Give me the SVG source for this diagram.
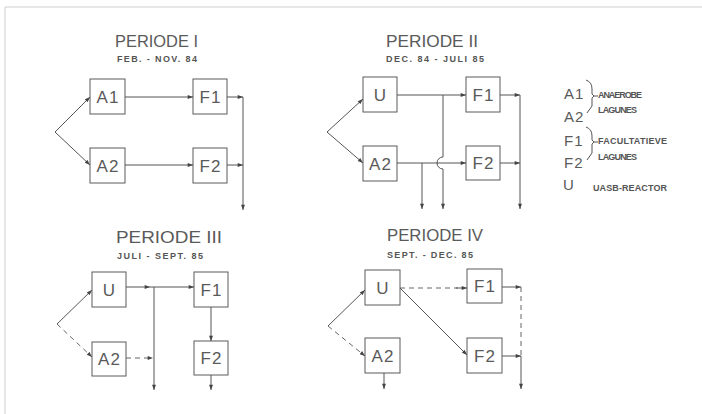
<svg xmlns="http://www.w3.org/2000/svg" width="702" height="414" viewBox="0 0 702 414">
<style>
.bg{fill:#ffffff}
.frame{stroke:#cfcfcf;stroke-width:1;fill:none}
.box{fill:#ffffff;stroke:#5a5a5a;stroke-width:1}
.lbl{font-family:"Liberation Sans",Arial,sans-serif;font-size:17px;fill:#5a5a5a;text-anchor:middle;letter-spacing:1px}
.title{font-family:"Liberation Sans",Arial,sans-serif;font-size:17px;fill:#5a5a5a}
.sub{font-family:"Liberation Sans",Arial,sans-serif;font-size:9px;font-weight:bold;fill:#555}
.leg{font-family:"Liberation Sans",Arial,sans-serif;font-size:15px;fill:#5a5a5a}
.legs{font-family:"Liberation Sans",Arial,sans-serif;font-size:9px;font-weight:bold;fill:#555}
.ln{stroke:#555;stroke-width:1;fill:none}
.dash{stroke:#666;stroke-width:1;fill:none;stroke-dasharray:5,4}
.brace{stroke:#555;stroke-width:1;fill:none}
</style>
<defs>
<marker id="ah" viewBox="0 0 8 6" refX="8" refY="3" markerWidth="7" markerHeight="4" orient="auto" markerUnits="userSpaceOnUse">
<path d="M0,0 L8,3 L0,6 z" fill="#444"/>
</marker>
</defs>
<rect class="bg" x="0" y="0" width="702" height="414"/>
<path class="frame" d="M5,414 L5,7 L702,7"/>

<!-- titles -->
<g id="titles">
<text class="title" x="115" y="47" textLength="83" lengthAdjust="spacingAndGlyphs">PERIODE I</text>
<text class="sub" x="117" y="62" textLength="80" lengthAdjust="spacing">FEB. - NOV. 84</text>
<text class="title" x="386" y="47" textLength="92" lengthAdjust="spacingAndGlyphs">PERIODE II</text>
<text class="sub" x="386" y="62" textLength="98" lengthAdjust="spacing">DEC. 84 - JULI 85</text>
<text class="title" x="116" y="243" textLength="106" lengthAdjust="spacingAndGlyphs">PERIODE III</text>
<text class="sub" x="117" y="259" textLength="86" lengthAdjust="spacing">JULI - SEPT. 85</text>
<text class="title" x="387" y="241" textLength="96" lengthAdjust="spacingAndGlyphs">PERIODE IV</text>
<text class="sub" x="387" y="258" textLength="86" lengthAdjust="spacing">SEPT. - DEC. 85</text>
</g>

<!-- Periode I nodes -->
<g id="p1-A1"><rect class="box" x="90" y="79" width="35" height="35"/><text class="lbl" x="108" y="103">A1</text></g>
<g id="p1-F1"><rect class="box" x="193" y="79" width="34" height="35"/><text class="lbl" x="210.5" y="103">F1</text></g>
<g id="p1-A2"><rect class="box" x="90" y="148" width="35" height="35"/><text class="lbl" x="108" y="172">A2</text></g>
<g id="p1-F2"><rect class="box" x="193" y="148" width="34" height="35"/><text class="lbl" x="210.5" y="172">F2</text></g>

<!-- Periode II nodes -->
<g id="p2-U"><rect class="box" x="363" y="77" width="34" height="35"/><text class="lbl" x="380.5" y="101">U</text></g>
<g id="p2-F1"><rect class="box" x="466" y="77" width="34" height="35"/><text class="lbl" x="483.5" y="101">F1</text></g>
<g id="p2-A2"><rect class="box" x="363" y="146" width="34" height="35"/><text class="lbl" x="380.5" y="170">A2</text></g>
<g id="p2-F2"><rect class="box" x="466" y="146" width="34" height="34"/><text class="lbl" x="483.5" y="169">F2</text></g>

<!-- Periode III nodes -->
<g id="p3-U"><rect class="box" x="92" y="272" width="34" height="35"/><text class="lbl" x="109.5" y="296">U</text></g>
<g id="p3-F1"><rect class="box" x="194" y="272" width="34" height="35"/><text class="lbl" x="211.5" y="296">F1</text></g>
<g id="p3-A2"><rect class="box" x="92" y="342" width="34" height="34"/><text class="lbl" x="109.5" y="365">A2</text></g>
<g id="p3-F2"><rect class="box" x="194" y="341" width="34" height="34"/><text class="lbl" x="211.5" y="364">F2</text></g>

<!-- Periode IV nodes -->
<g id="p4-U"><rect class="box" x="365" y="270" width="35" height="35"/><text class="lbl" x="383" y="294">U</text></g>
<g id="p4-F1"><rect class="box" x="467" y="269" width="35" height="34"/><text class="lbl" x="485" y="292">F1</text></g>
<g id="p4-A2"><rect class="box" x="365" y="338" width="35" height="35"/><text class="lbl" x="383" y="362">A2</text></g>
<g id="p4-F2"><rect class="box" x="467" y="338" width="35" height="35"/><text class="lbl" x="485" y="362">F2</text></g>

<!-- legend -->
<g id="legend">
<text class="leg" x="564" y="99" letter-spacing="1">A1</text>
<text class="leg" x="564" y="122" letter-spacing="1">A2</text>
<path class="brace" d="M586,80 Q592,82 592,89 L592,94 L594,96 L592,98 L592,106 L587,113 M594,96 L598,96"/>
<text class="legs" x="598" y="98" textLength="44" lengthAdjust="spacing">ANAEROBE</text>
<text class="legs" x="598" y="113" textLength="39" lengthAdjust="spacing">LAGUNES</text>
<text class="leg" x="564" y="146" letter-spacing="1">F1</text>
<text class="leg" x="564" y="168" letter-spacing="1">F2</text>
<path class="brace" d="M586,127 Q592,129 592,136 L592,140 L594,142 L592,144 L592,153 L587,160 M594,142 L598,142"/>
<text class="legs" x="598" y="144" textLength="69" lengthAdjust="spacing">FACULTATIEVE</text>
<text class="legs" x="598" y="160" textLength="39" lengthAdjust="spacing">LAGUNES</text>
<text class="leg" x="563" y="190">U</text>
<text class="legs" x="593" y="191" textLength="74" lengthAdjust="spacing">UASB-REACTOR</text>
</g>

<g id="connectors">
<!-- Periode I -->
<line class="ln" x1="55" y1="132" x2="90" y2="97" marker-end="url(#ah)"/>
<line class="ln" x1="55" y1="132" x2="90" y2="165" marker-end="url(#ah)"/>
<line class="ln" x1="125" y1="97" x2="193" y2="97" marker-end="url(#ah)"/>
<line class="ln" x1="125" y1="165" x2="193" y2="165" marker-end="url(#ah)"/>
<line class="ln" x1="227" y1="97" x2="243" y2="97" marker-end="url(#ah)"/>
<line class="ln" x1="227" y1="165" x2="243" y2="165" marker-end="url(#ah)"/>
<line class="ln" x1="243" y1="97" x2="243" y2="210" marker-end="url(#ah)"/>

<!-- Periode II -->
<line class="ln" x1="327" y1="132" x2="363" y2="99" marker-end="url(#ah)"/>
<line class="ln" x1="327" y1="132" x2="363" y2="163" marker-end="url(#ah)"/>
<line class="ln" x1="397" y1="95" x2="466" y2="95" marker-end="url(#ah)"/>
<line class="ln" x1="397" y1="163" x2="466" y2="163" marker-end="url(#ah)"/>
<path class="ln" d="M443,95 L443,157 A6,6 0 0 0 443,169 L443,209" marker-end="url(#ah)"/>
<line class="ln" x1="422" y1="163" x2="422" y2="209" marker-end="url(#ah)"/>
<line class="ln" x1="500" y1="95" x2="520" y2="95" marker-end="url(#ah)"/>
<line class="ln" x1="500" y1="163" x2="520" y2="163" marker-end="url(#ah)"/>
<line class="ln" x1="520" y1="95" x2="520" y2="209" marker-end="url(#ah)"/>

<!-- Periode III -->
<line class="ln" x1="57" y1="324" x2="92" y2="290" marker-end="url(#ah)"/>
<line class="dash" x1="57" y1="324" x2="92" y2="357" marker-end="url(#ah)"/>
<line class="ln" x1="126" y1="287" x2="150" y2="287" marker-end="url(#ah)"/>
<line class="ln" x1="150" y1="287" x2="194" y2="287" marker-end="url(#ah)"/>
<line class="ln" x1="154" y1="287" x2="154" y2="390" marker-end="url(#ah)"/>
<line class="dash" x1="126" y1="358" x2="153" y2="358" marker-end="url(#ah)"/>
<line class="ln" x1="211" y1="307" x2="211" y2="341" marker-end="url(#ah)"/>
<line class="ln" x1="211" y1="375" x2="211" y2="390" marker-end="url(#ah)"/>

<!-- Periode IV -->
<line class="ln" x1="328" y1="326" x2="365" y2="290" marker-end="url(#ah)"/>
<line class="dash" x1="328" y1="326" x2="365" y2="356" marker-end="url(#ah)"/>
<line class="dash" x1="400" y1="288" x2="458" y2="288"/>
<line class="ln" x1="456" y1="288" x2="467" y2="288" marker-end="url(#ah)"/>
<line class="ln" x1="400" y1="288" x2="467" y2="355" marker-end="url(#ah)"/>
<line class="ln" x1="384" y1="373" x2="384" y2="389" marker-end="url(#ah)"/>
<line class="ln" x1="502" y1="287" x2="521" y2="287" marker-end="url(#ah)"/>
<line class="dash" x1="521" y1="287" x2="521" y2="356"/>
<line class="ln" x1="502" y1="356" x2="521" y2="356" marker-end="url(#ah)"/>
<line class="ln" x1="521" y1="356" x2="521" y2="389" marker-end="url(#ah)"/>
</g>
</svg>
